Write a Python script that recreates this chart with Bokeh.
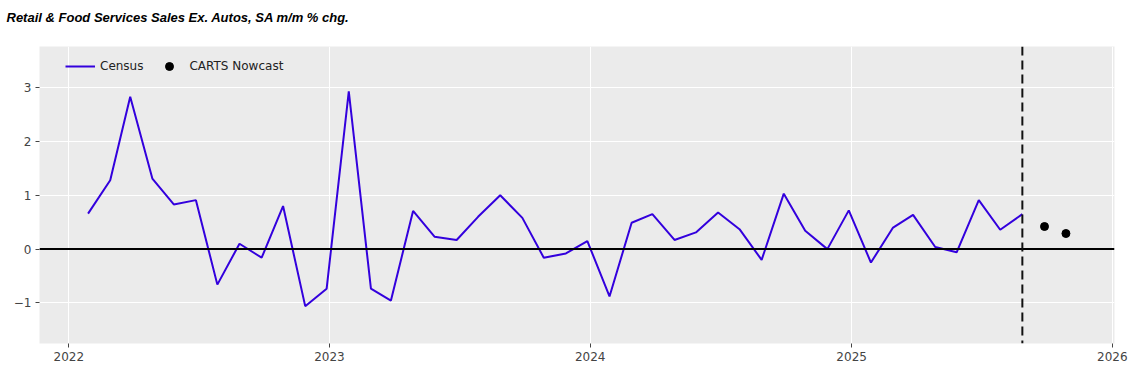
import pandas as pd
from bokeh.plotting import figure
from bokeh.models import Span, Legend, LegendItem, ColumnDataSource, DatetimeTickFormatter, FixedTicker, Range1d
from bokeh.embed import file_html
from bokeh.resources import INLINE

title_text = "Retail & Food Services Sales Ex. Autos, SA m/m % chg."

# dates (points sit near the 28th of each month)
census_months = pd.date_range("2022-01-01", "2025-08-01", freq="MS") + pd.Timedelta(days=27)
census_values = [
    0.66, 1.28, 2.83, 1.31, 0.83, 0.91, -0.66, 0.10, -0.16, 0.80, -1.06, -0.735,
    2.93, -0.735, -0.957, 0.71, 0.23, 0.17, 0.60, 1.00, 0.58, -0.16, -0.08, 0.15,
    -0.88, 0.49, 0.65, 0.17, 0.31, 0.68, 0.37, -0.20, 1.03, 0.34, 0.00, 0.72,
    -0.25, 0.40, 0.635, 0.04, -0.06, 0.91, 0.36, 0.65,
]
nowcast_months = pd.to_datetime(["2025-09-28", "2025-10-28"])
nowcast_values = [0.42, 0.29]

year_ticks = pd.to_datetime(["2022-01-01", "2023-01-01", "2024-01-01", "2025-01-01", "2026-01-01"])
y_ticks = [-1, 0, 1, 2, 3]

def ms(ts):
    return pd.Timestamp(ts).value / 1e6

p = figure(
    width=1132, height=373, x_axis_type="datetime",
    output_backend="svg", toolbar_location=None,
    x_range=Range1d(ms("2021-11-21"), ms("2026-01-04")),
    y_range=Range1d(-1.754, 3.765),
    min_border_left=39, min_border_right=18, min_border_top=45, min_border_bottom=30,
)
p.background_fill_color = "#EBEBEB"
p.border_fill_color = "white"
p.outline_line_color = None

p.title.text = title_text
p.title.text_font = "Liberation Sans"
p.title.text_font_style = "bold italic"
p.title.text_font_size = "13px"
p.title.text_color = "black"
p.title.align = "left"
p.title.vertical_align = "bottom"
p.title.offset = -33
p.title.standoff = 0
p.title.padding = (0, 0, 7, 22)

src = ColumnDataSource(dict(x=census_months, y=census_values))
nsrc = ColumnDataSource(dict(x=nowcast_months, y=nowcast_values))

p.add_layout(Span(location=0, dimension="width", line_color="black", line_width=2))
p.add_layout(Span(location=ms(census_months[-1]), dimension="height", line_color="#111111",
                  line_width=2, line_dash="9 5"))

r_line = p.line("x", "y", source=src, line_color="#3300DD", line_width=2)
r_dot = p.scatter("x", "y", source=nsrc, size=8, color="black")

p.xaxis.ticker = FixedTicker(ticks=[ms(t) for t in year_ticks])
p.xaxis.formatter = DatetimeTickFormatter(years="%Y", months="%Y", days="%Y")
p.yaxis.ticker = FixedTicker(ticks=y_ticks)

for ax in (p.xaxis, p.yaxis):
    ax.axis_line_color = None
    ax.major_tick_line_color = "#444444"
    ax.major_tick_out = 4
    ax.major_tick_in = 0
    ax.minor_tick_line_color = None
    ax.major_label_text_font = "DejaVu Sans"
    ax.major_label_text_font_size = "12px"
    ax.major_label_text_color = "#444444"
    ax.major_label_standoff = 4

p.xgrid.grid_line_color = "white"
p.ygrid.grid_line_color = "white"
p.xgrid.grid_line_width = 1
p.ygrid.grid_line_width = 1

legend = Legend(items=[LegendItem(label="Census", renderers=[r_line]),
                       LegendItem(label="CARTS Nowcast", renderers=[r_dot])],
                location=(26, 267), orientation="horizontal")
legend.background_fill_alpha = 0
legend.border_line_color = None
legend.glyph_width = 30
legend.glyph_height = 20
legend.label_standoff = 5
legend.spacing = 11
legend.padding = 0
legend.margin = 0
legend.label_text_font = "DejaVu Sans"
legend.label_text_font_size = "12px"
legend.label_text_color = "#222222"
p.add_layout(legend)

open("out.html", "w").write(file_html(p, INLINE))
